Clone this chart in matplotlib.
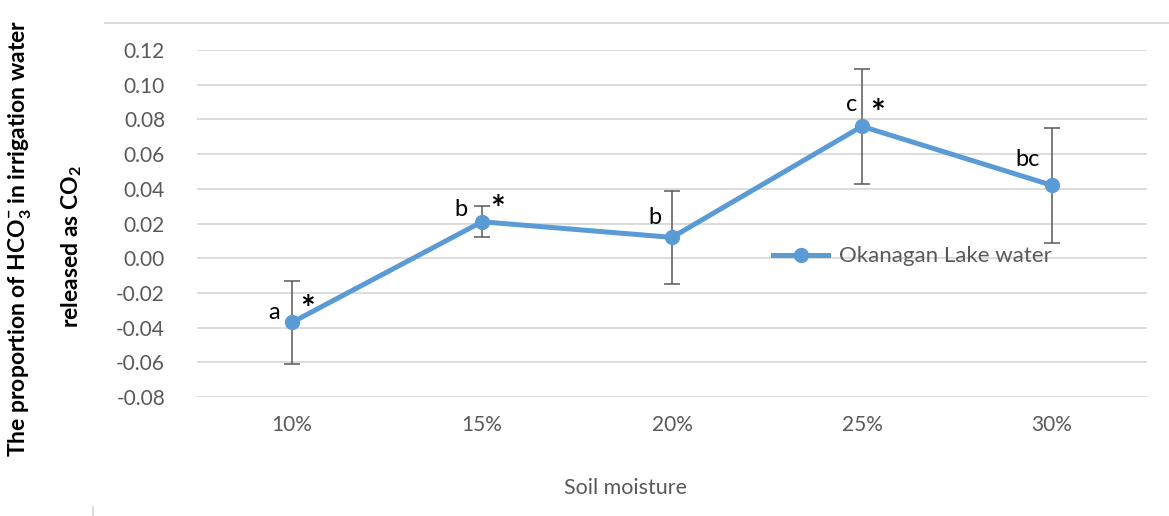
import numpy as np
import matplotlib
matplotlib.use('Agg')
import matplotlib.pyplot as plt
from matplotlib.lines import Line2D

matplotlib.rcParams['font.family'] = 'Lato'
matplotlib.rcParams['mathtext.fontset'] = 'custom'
matplotlib.rcParams['mathtext.rm'] = 'Lato:bold'
matplotlib.rcParams['mathtext.bf'] = 'Lato:bold'

# soil moisture treatments
moisture = ['10%', '15%', '20%', '25%', '30%']
# proportion of HCO3- released as CO2, with error
proportion = [-0.037, 0.021, 0.012, 0.076, 0.042]
error = [0.024, 0.009, 0.027, 0.033, 0.033]
# significance letters and asterisks
letters = ['a', 'b', 'b', 'c', 'bc']
stars = [True, True, False, True, False]

yticks = [-0.08, -0.06, -0.04, -0.02, 0.00, 0.02, 0.04, 0.06, 0.08, 0.10, 0.12]

blue = '#5B9BD5'
grey = '#595959'

fig = plt.figure(figsize=(11.69, 5.16), dpi=100)
ax = fig.add_axes([197 / 1169, 1 - 397 / 516, (1147 - 197) / 1169, (397 - 50) / 516])

x = np.arange(len(moisture))
ax.errorbar(x, proportion, yerr=error, fmt='none', ecolor=grey,
            elinewidth=1.1, capsize=5.5, capthick=1.1, zorder=2)
ax.plot(x, proportion, color=blue, linewidth=3.6, marker='o',
        markersize=10, zorder=3, label='Okanagan Lake water')

# letters to the upper left, asterisks to the upper right
letter_off = [(-18, 10), (-21, 12), (-17, 20), (-10, 22), (-24, 26)]
for i in range(len(x)):
    ax.annotate(letters[i], (x[i], proportion[i]), xytext=letter_off[i],
                textcoords='offset pixels', ha='center', va='center',
                fontsize=17, color='black')
    if stars[i]:
        ax.annotate('*', (x[i], proportion[i]), xytext=(16, 12),
                    textcoords='offset pixels', ha='center', va='center',
                    fontsize=25, fontweight='bold', color='black')

ax.set_xlim(-0.5, len(moisture) - 0.5)
ax.set_ylim(-0.08, 0.12)
ax.set_yticks(yticks)
ax.set_yticklabels(['%.2f' % v for v in yticks])
ax.set_xticks(x)
ax.set_xticklabels(moisture)
ax.tick_params(axis='both', length=0, labelsize=15, labelcolor=grey)
ax.tick_params(axis='y', pad=23)
ax.tick_params(axis='x', pad=13)
ax.grid(axis='y', color='#d9d9d9', linewidth=1.3)
ax.set_axisbelow(True)
for s in ax.spines.values():
    s.set_visible(False)

ax.legend(loc='center left', bbox_to_anchor=(0.585, 0.405), frameon=False,
          fontsize=16, labelcolor=grey, handlelength=2.5, handletextpad=0.5)

fig.text(625 / 1169, 1 - 488 / 516, 'Soil moisture', ha='center', va='center',
         fontsize=15.5, color=grey)

fig.text(20 / 1169, 1 - 238 / 516,
         r'The proportion of HCO$_{\mathbf{3}}^{\mathbf{-}}$ in irrigation water',
         rotation=90, ha='center', va='center', fontsize=16.5, fontweight='bold')
fig.text(72 / 1169, 1 - 247 / 516, r'released as CO$_{\mathbf{2}}$',
         rotation=90, ha='center', va='center', fontsize=16.5, fontweight='bold')

# chart border pieces
fig.add_artist(Line2D([105 / 1169, 1.0], [1 - 23 / 516, 1 - 23 / 516],
                      color='#d9d9d9', linewidth=1.3))
fig.add_artist(Line2D([93 / 1169, 93 / 1169], [0, 1 - 507 / 516],
                      color='#d9d9d9', linewidth=1.3))

plt.savefig('out.png', dpi=100)
